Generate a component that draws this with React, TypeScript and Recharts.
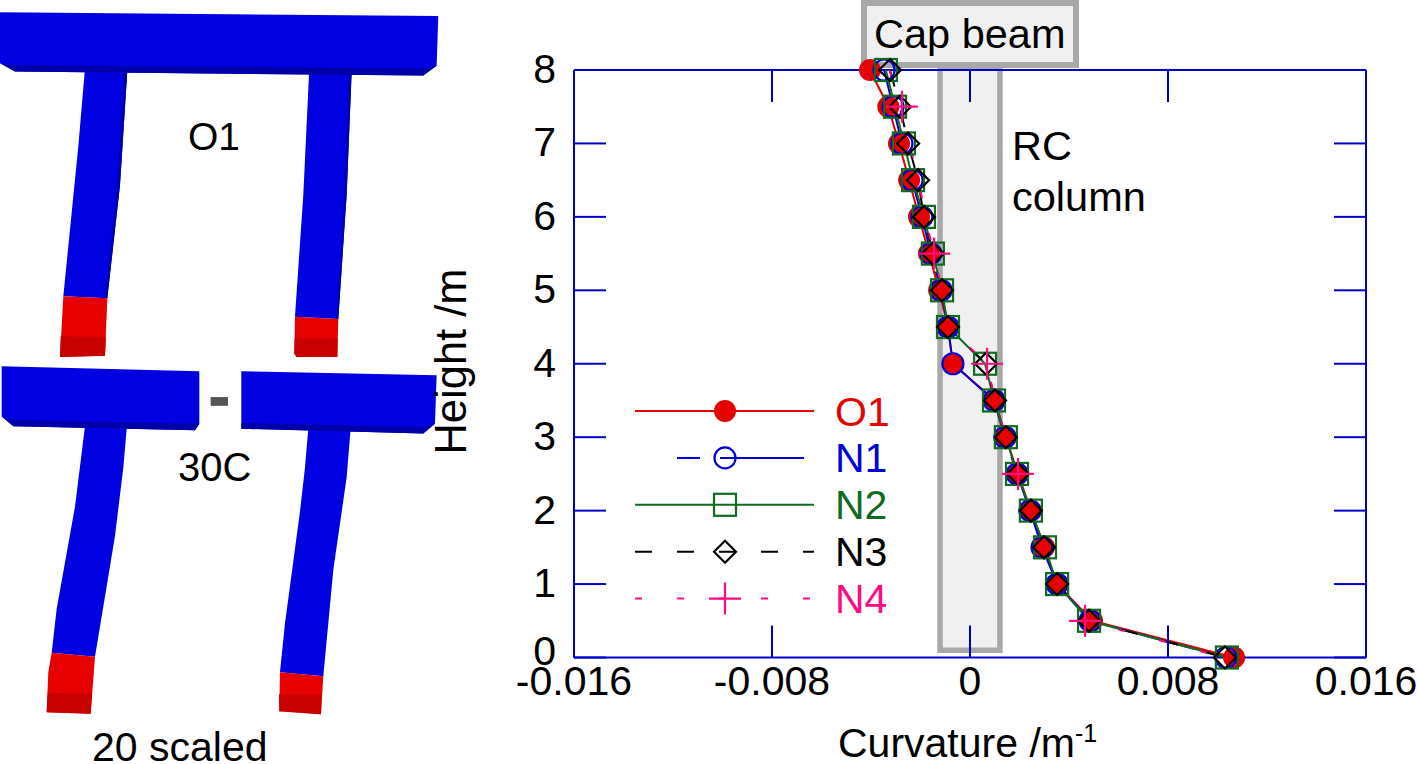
import React from 'react';
import { ScatterChart, Scatter, XAxis, YAxis, ReferenceArea, Legend } from 'recharts';

const heights = [8, 7.5, 7, 6.5, 6, 5.5, 5, 4.5, 4, 3.5, 3, 2.5, 2, 1.5, 1, 0.5, 0];
const o1Curvature = [-0.00404, -0.0033, -0.00287, -0.00246, -0.00206, -0.00166, -0.00125, -0.00089, -0.00069, 0.00101, 0.00145, 0.00194, 0.00246, 0.00299, 0.00352, 0.00493, 0.01067];
const n1Curvature = [-0.00347, -0.00311, -0.00275, -0.00234, -0.00194, -0.00158, -0.00117, -0.00089, -0.00069, 0.00097, 0.00141, 0.0019, 0.00242, 0.00291, 0.00352, 0.00485, 0.01034];
const n2Curvature = [-0.0034, -0.00303, -0.00267, -0.0023, -0.00186, -0.0015, -0.00113, -0.00089, 0.00061, 0.00097, 0.00145, 0.0019, 0.00246, 0.00303, 0.00352, 0.00481, 0.01038];
const n3Curvature = [-0.00323, -0.00283, -0.0025, -0.0021, -0.00186, -0.0015, -0.00113, -0.00089, 0.00065, 0.00101, 0.00145, 0.00194, 0.00246, 0.00299, 0.00352, 0.00481, 0.0103];
const n4Curvature = [-0.00326, -0.00275, -0.00246, -0.00206, -0.00182, -0.00145, -0.00113, -0.00089, 0.00069, 0.00101, 0.00145, 0.00194, 0.00246, 0.00299, 0.00352, 0.00465, 0.0103];
const n4MarkerHeights = [7.5, 5.5, 4, 2.5, 0.5];

const xTicks = [-0.016, -0.008, 0, 0.008, 0.016];
const xTickLabels = ['-0.016', '-0.008', '0', '0.008', '0.016'];
const yTicks = [0, 1, 2, 3, 4, 5, 6, 7, 8];

const seriesNames = ['O1', 'N1', 'N2', 'N3', 'N4'];
const curves = [o1Curvature, n1Curvature, n2Curvature, n3Curvature, n4Curvature];

const FONT = '"Liberation Sans", Arial, sans-serif';
const AXIS_BLUE = '#0000cc';
const RED = '#e60000';
const BLUE = '#0000d8';
const GREEN = '#0f6b1f';
const PINK = '#ff0a80';
const BLUE_FACE = '#0000e0';
const BLUE_DARK = '#0000a8';
const RED_FACE = '#e60000';
const RED_DARK = '#c80000';

const seriesStyle: Record<string, { color: string; dash?: string; offset?: number; legendFrom: number; legendTo: number }> = {
  O1: { color: RED, legendFrom: 635, legendTo: 814 },
  N1: { color: BLUE, dash: '84 20', offset: 61, legendFrom: 677, legendTo: 804 },
  N2: { color: GREEN, legendFrom: 635, legendTo: 814 },
  N3: { color: '#000000', dash: '17 25', legendFrom: 635, legendTo: 814 },
  N4: { color: PINK, dash: '7 35', legendFrom: 635, legendTo: 814 },
};

const toPoints = (values: number[]) => values.map((x, i) => ({ x, y: heights[i] }));

const Mark = ({ name, cx, cy }: { name: string; cx: number; cy: number }) => {
  const c = seriesStyle[name].color;
  if (name === 'O1') return <circle cx={cx} cy={cy} r={11} fill={c} />;
  if (name === 'N1') return <circle cx={cx} cy={cy} r={10.5} fill="none" stroke={c} strokeWidth={2.2} />;
  if (name === 'N2') return <rect x={cx - 11} y={cy - 11} width={22} height={22} fill="none" stroke={c} strokeWidth={2.2} />;
  if (name === 'N3') return <path d={`M${cx - 11} ${cy}L${cx} ${cy - 11}L${cx + 11} ${cy}L${cx} ${cy + 11}Z`} fill="none" stroke={c} strokeWidth={2.2} />;
  return <path d={`M${cx - 16} ${cy}H${cx + 16}M${cx} ${cy - 16}V${cy + 16}`} fill="none" stroke={c} strokeWidth={2.2} />;
};

const markShape = (name: string) => (props: any) => {
  if (name === 'N4' && !n4MarkerHeights.includes(props.payload?.y)) return <g />;
  return <Mark name={name} cx={props.cx} cy={props.cy} />;
};

const XTick = (props: any) => {
  const { x, y, payload, index } = props;
  return (
    <g>
      <line x1={x} x2={x} y1={y} y2={y - 32} stroke={AXIS_BLUE} strokeWidth={2} />
      <text x={x} y={y + 37} textAnchor="middle" fontSize={41} fontFamily={FONT} fill="#000">
        {xTickLabels[index] ?? payload.value}
      </text>
    </g>
  );
};

const XTickTop = (props: any) => (
  <line x1={props.x} x2={props.x} y1={props.y} y2={props.y + 32} stroke={AXIS_BLUE} strokeWidth={2} />
);

const YTick = (props: any) => {
  const { x, y, payload } = props;
  return (
    <g>
      <line x1={x} x2={x + 32} y1={y} y2={y} stroke={AXIS_BLUE} strokeWidth={2} />
      <text x={x - 18} y={payload.value === 0 ? y + 7 : y + 13} textAnchor="end" fontSize={41} fontFamily={FONT} fill="#000">
        {payload.value}
      </text>
    </g>
  );
};

const YTickRight = (props: any) => (
  <line x1={props.x} x2={props.x - 32} y1={props.y} y2={props.y} stroke={AXIS_BLUE} strokeWidth={2} />
);

const LegendBlock = () => (
  <svg width={1418} height={764} style={{ display: 'block' }}>
    {seriesNames.map((name, i) => {
      const s = seriesStyle[name];
      const y = 411 + i * 46.9;
      return (
        <g key={name}>
          <line x1={s.legendFrom} x2={s.legendTo} y1={y} y2={y} stroke={s.color} strokeWidth={2} strokeDasharray={s.dash} strokeDashoffset={s.offset} />
          <Mark name={name} cx={725} cy={y} />
          <text x={835} y={y + 14.5} fontSize={41} fontFamily={FONT} fill={s.color}>
            {name}
          </text>
        </g>
      );
    })}
  </svg>
);

// the two deformed frames on the left, coordinates taken from a crop (x scaled 3, y scaled 2.05)
const blueShapes = [
  '0,25 1315,33 1310,135 1270,155 45,147 0,130',
  '255,140 382,145 360,380 322,612 190,608 235,300',
  '928,140 1055,150 1040,400 1015,655 885,650 910,400',
  '5,752 598,762 598,870 585,883 40,875 5,855',
  '724,762 1310,770 1305,870 1270,890 724,880',
  '255,875 380,880 370,960 345,1100 285,1348 155,1340 170,1250 225,1040 245,930',
  '925,880 1052,880 1040,980 1000,1170 970,1388 840,1380 855,1280 900,1050 915,960',
];
const darkShapes = [
  '0,130 45,147 1270,155 1310,135 1272,140 45,134',
  '5,855 40,875 585,883 598,870 585,870 40,862',
  '724,880 1270,890 1305,870 1270,877 724,868',
  '372,145 382,145 360,380 322,612 314,612 352,380',
  '1047,150 1055,150 1040,400 1015,655 1010,655 1033,400',
];
const redShapes = [
  '190,608 322,612 315,730 180,733',
  '885,650 1015,655 1012,733 890,733 883,725',
  '155,1340 285,1348 272,1465 140,1462 145,1380',
  '840,1380 970,1388 963,1466 838,1460',
];
const redDarkShapes = [
  '182,690 318,692 315,730 180,733',
  '884,695 1013,695 1012,733 890,733 883,725',
  '143,1422 276,1424 272,1465 140,1462',
  '837,1425 965,1427 963,1466 838,1460',
];

const Backdrop = () => (
  <svg width={1418} height={764} style={{ position: 'absolute', left: 0, top: 0 }}>
    <g transform="scale(0.3333,0.4872)">
      {blueShapes.map((p) => <polygon key={p} points={p} fill={BLUE_FACE} />)}
      {darkShapes.map((p) => <polygon key={p} points={p} fill={BLUE_DARK} />)}
      {redShapes.map((p) => <polygon key={p} points={p} fill={RED_FACE} />)}
      {redDarkShapes.map((p) => <polygon key={p} points={p} fill={RED_DARK} />)}
      <rect x={632} y={815} width={52} height={18} fill="#555" />
    </g>
    <rect x={864} y={3} width={212} height={62} fill="#f0f0f0" stroke="#a8a8a8" strokeWidth={6} />
    <g fontFamily={FONT} fill="#000" fontSize={41.5}>
      <text x={874} y={48}>Cap beam</text>
      <text x={1012} y={160}>RC</text>
      <text x={1012} y={211}>column</text>
      <text x={188} y={150} fontSize={39}>O1</text>
      <text x={178} y={481} fontSize={40}>30C</text>
      <text x={92} y={761} fontSize={41}>20 scaled</text>
      <text x={838} y={757} fontSize={41}>
        Curvature /m<tspan fontSize={25} dy={-15}>-1</tspan>
      </text>
      <text transform="translate(466,361.5) rotate(-90)" textAnchor="middle" fontSize={43.5}>Height /m</text>
    </g>
  </svg>
);

export default function App() {
  return (
    <div style={{ position: 'absolute', left: 0, top: 0, width: 1418, height: 764, background: '#fff', overflow: 'hidden' }}>
      <Backdrop />
      <div style={{ position: 'absolute', left: 0, top: 0 }}>
        <ScatterChart width={1418} height={764} margin={{ left: 514, right: 51, top: 69, bottom: 46.5 }}>
          <XAxis
            type="number"
            dataKey="x"
            domain={[-0.016, 0.016]}
            ticks={xTicks}
            height={60}
            tickLine={false}
            tickSize={0}
            tickMargin={0}
            axisLine={{ stroke: AXIS_BLUE, strokeWidth: 2 }}
            tick={XTick}
            interval={0}
          />
          <XAxis
            xAxisId="top"
            orientation="top"
            type="number"
            dataKey="x"
            domain={[-0.016, 0.016]}
            ticks={xTicks}
            height={1}
            tickLine={false}
            tickSize={0}
            tickMargin={0}
            axisLine={{ stroke: AXIS_BLUE, strokeWidth: 2 }}
            tick={XTickTop}
            interval={0}
          />
          <YAxis
            type="number"
            dataKey="y"
            domain={[0, 8]}
            ticks={yTicks}
            width={60}
            tickLine={false}
            tickSize={0}
            tickMargin={0}
            axisLine={{ stroke: AXIS_BLUE, strokeWidth: 2 }}
            tick={YTick}
            interval={0}
          />
          <YAxis
            yAxisId="right"
            orientation="right"
            type="number"
            dataKey="y"
            domain={[0, 8]}
            ticks={yTicks}
            width={1}
            tickLine={false}
            tickSize={0}
            tickMargin={0}
            axisLine={{ stroke: AXIS_BLUE, strokeWidth: 2 }}
            tick={YTickRight}
            interval={0}
          />
          <ReferenceArea
            x1={-0.00121}
            x2={0.00121}
            y1={0.1}
            y2={8.05}
            ifOverflow="visible"
            fill="#f0f0f0"
            fillOpacity={1}
            stroke="#a8a8a8"
            strokeWidth={5.5}
          />
          {/* nothing visible, only keeps the top and right axes alive so they draw their ticks */}
          <Scatter
            xAxisId="top"
            yAxisId="right"
            data={toPoints(o1Curvature)}
            shape={() => <g />}
            legendType="none"
            isAnimationActive={false}
          />
          {/* lines first, markers in a second pass so no line runs over a marker */}
          {seriesNames.map((name, i) => (
            <Scatter
              key={`${name}-line`}
              name={`${name}-line`}
              data={toPoints(curves[i])}
              line={{ stroke: seriesStyle[name].color, strokeWidth: 2, strokeDasharray: seriesStyle[name].dash }}
              lineType="joint"
              shape={() => <g />}
              isAnimationActive={false}
            />
          ))}
          {seriesNames.map((name, i) => (
            <Scatter
              key={name}
              name={name}
              data={toPoints(curves[i])}
              shape={markShape(name)}
              isAnimationActive={false}
            />
          ))}
          <Legend
            layout="vertical"
            align="center"
            verticalAlign="middle"
            content={LegendBlock}
            wrapperStyle={{ position: 'absolute', left: 0, top: 0, width: 1418, height: 764, pointerEvents: 'none' }}
          />
        </ScatterChart>
      </div>
    </div>
  );
}
